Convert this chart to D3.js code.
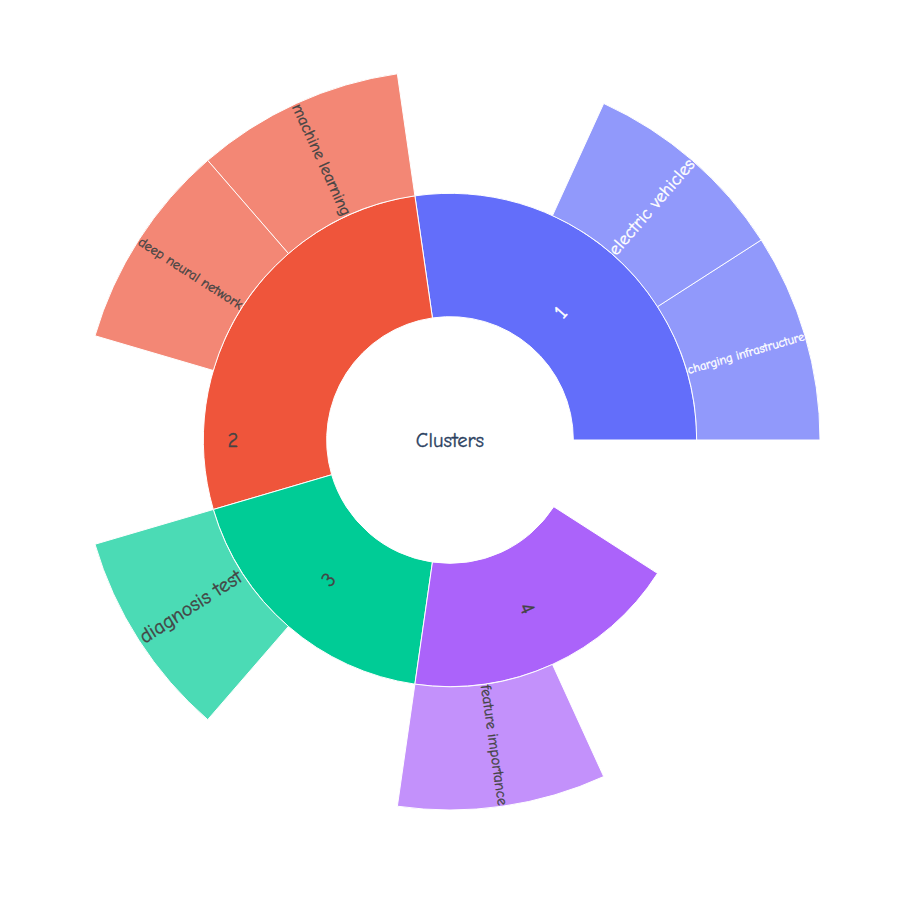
<!DOCTYPE html>
<html><head><meta charset="utf-8">
<script src="https://cdn.jsdelivr.net/npm/d3@7"></script>
<style>html,body{margin:0;padding:0;background:#fff;} svg{display:block;}</style>
</head><body><svg id="chart" width="900" height="900"></svg>
<script>
// ---- data ----
const rootLabel = "Clusters";
const rootTotal = 11;
const clusterLabels = ["1", "2", "3", "4"];
const clusterTotals = [3, 3, 2, 2];
const leafLabels = ["charging infrastructure", "electric vehicles", "machine learning", "deep neural network", "diagnosis test", "feature importance"];
const leafParents = ["1", "1", "2", "2", "3", "4"];
const leafValues = [1, 1, 1, 1, 1, 1];
const colorway = ["#636efa", "#EF553B", "#00cc96", "#ab63fa"];

// ---- layout / style ----
const cx = 450, cy = 440, R = 370;
const FONT = '"Comic Sans MS","Comic Neue","Noto Sans",sans-serif';
const BASE = 20.5;
const labelStyle = {
  "2": {orient: "horizontal", angleDeg: 180, rFrac: 0.76},
  "1": {rFrac: 0.37}
};

const tree = {
  name: rootLabel, total: rootTotal,
  children: clusterLabels.map((c, i) => ({
    name: c, total: clusterTotals[i], colorIndex: i,
    children: leafLabels.map((l, j) => ({l, j}))
      .filter(o => leafParents[o.j] === c)
      .map(o => ({name: o.l, total: leafValues[o.j]}))
  }))
};

const root = d3.hierarchy(tree)
  .sum(d => d.total - (d.children ? d3.sum(d.children, c => c.total) : 0));
d3.partition().size([2 * Math.PI, root.height + 1])(root);

const r = d3.scaleLinear().domain([0, root.height + 1]).range([0, R]);
const arc = d3.arc()
  .startAngle(d => Math.PI / 2 - d.x1)
  .endAngle(d => Math.PI / 2 - d.x0)
  .innerRadius(d => r(d.y0))
  .outerRadius(d => r(d.y1));

function baseColor(d) {
  if (d.depth === 0) return null;
  const a = d.ancestors().find(n => n.depth === 1);
  return colorway[a.data.colorIndex];
}
function contrast(c) {
  const rgb = d3.rgb(c);
  const b = (rgb.r * 299 + rgb.g * 587 + rgb.b * 114) / 1000;
  return b < 128 ? "#fff" : "#444";
}

const svg = d3.select("#chart");
const g = svg.append("g").attr("transform", `translate(${cx},${cy})`);

const nodes = root.descendants();

g.selectAll("path.sector").data(nodes).join("path")
  .attr("class", "sector")
  .attr("d", arc)
  .attr("fill", d => d.depth === 0 ? "rgba(0,0,0,0)" : baseColor(d))
  .attr("opacity", d => (d.depth > 0 && !d.children) ? 0.7 : 1)
  .attr("stroke", "#fff")
  .attr("stroke-width", 1);

const labels = g.selectAll("text.lbl").data(nodes).join("text")
  .attr("class", "lbl")
  .attr("font-family", FONT)
  .attr("font-size", BASE)
  .attr("text-anchor", "middle")
  .attr("dominant-baseline", "central")
  .attr("stroke-width", 0.35)
  .attr("fill", d => d.depth === 0 ? "#2a3f5f" : contrast(baseColor(d)))
  .attr("stroke", d => d.depth === 0 ? "#2a3f5f" : contrast(baseColor(d)))
  .text(d => d.data.name);

labels.each(function(d) {
  const el = d3.select(this);
  if (d.depth === 0) { el.attr("transform", "translate(0,0)"); return; }
  const st = labelStyle[d.data.name] || {};
  const theta = st.angleDeg !== undefined ? st.angleDeg * Math.PI / 180 : (d.x0 + d.x1) / 2;
  const r0 = r(d.y0), r1 = r(d.y1);
  const rm = r0 + (r1 - r0) * (st.rFrac !== undefined ? st.rFrac : 0.5);
  const x = rm * Math.cos(theta), y = -rm * Math.sin(theta);
  let rot = 0;
  if (st.orient !== "horizontal") {
    rot = -theta * 180 / Math.PI;
    rot = ((rot % 360) + 540) % 360 - 180;
    if (rot > 90) rot -= 180;
    if (rot < -90) rot += 180;
  }
  const L = this.getComputedTextLength();
  const avail = (r1 - r0) - 2;
  if (st.orient !== "horizontal" && L > avail) el.attr("font-size", BASE * avail / L);
  el.attr("transform", `translate(${x},${y}) rotate(${rot})`);
});
</script>
</body></html>
